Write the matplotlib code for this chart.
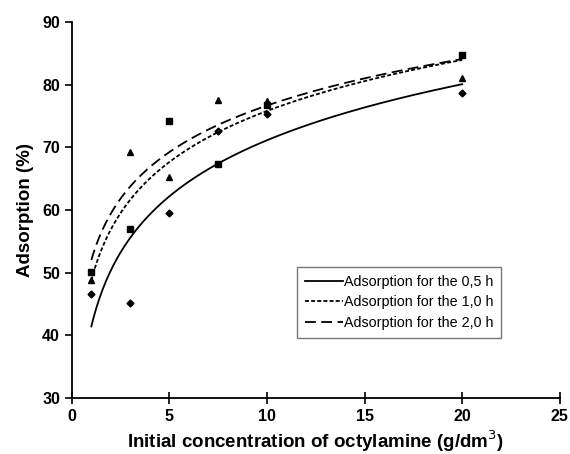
import numpy as np
import matplotlib.pyplot as plt

plt.rcParams['font.family'] = ['Liberation Sans', 'DejaVu Sans']

# initial concentration (g/dm3) and measured adsorption (%)
conc = [1, 3, 5, 7.5, 10, 20]
ads_05h = [46.6, 45.2, 59.5, 72.6, 75.3, 78.6]
ads_10h = [50.1, 57.0, 74.2, 67.4, 76.8, 84.7]
ads_20h = [48.9, 69.3, 65.3, 77.5, 77.3, 81.0]

labels = ["Adsorption for the 0,5 h", "Adsorption for the 1,0 h", "Adsorption for the 2,0 h"]

fig = plt.figure(figsize=(5.7, 4.54), dpi=100)
ax = fig.add_axes([0.126, 0.123, 0.856, 0.829])

xs = np.linspace(min(conc), max(conc), 200)

# logarithmic trend lines, fitted to the points
series = [(ads_05h, 'D', 3.5, '-'),
          (ads_10h, 's', 4.5, (0, (2.2, 1.2))),
          (ads_20h, '^', 4.5, (0, (6, 3)))]
for (y, mk, ms, ls), lab in zip(series, labels):
    ax.plot(conc, y, linestyle='none', marker=mk, markersize=ms, color='black')
    a, b = np.polyfit(np.log(conc), y, 1)
    ax.plot(xs, a * np.log(xs) + b, linestyle=ls, color='black', lw=1.3, label=lab)

ax.set_xlim(0, 25)
ax.set_ylim(30, 90)
ax.set_xticks(range(0, 26, 5))
ax.set_yticks(range(30, 91, 10))
for s in ['top', 'right']:
    ax.spines[s].set_visible(False)
for s in ['left', 'bottom']:
    ax.spines[s].set_linewidth(1.3)
ax.tick_params(axis='y', direction='out', length=5, width=1.2, labelsize=11.5)
ax.tick_params(axis='x', direction='inout', length=8, width=1.2, labelsize=11.5, pad=4)
for t in ax.get_xticklabels() + ax.get_yticklabels():
    t.set_fontweight('bold')

ax.set_xlabel("Initial concentration of octylamine (g/dm$^3$)", fontsize=13.5, fontweight='bold', labelpad=3)
ax.set_ylabel("Adsorption (%)", fontsize=13.5, fontweight='bold', labelpad=6)

leg = ax.legend(loc='upper left', bbox_to_anchor=(0.461, 0.348), fontsize=10.3,
                frameon=True, fancybox=False, edgecolor='#555555', handlelength=2.7,
                handletextpad=0.05, borderpad=0.55, labelspacing=0.45, borderaxespad=0)
leg.get_frame().set_linewidth(1.0)

fig.savefig('out.png', dpi=100)
